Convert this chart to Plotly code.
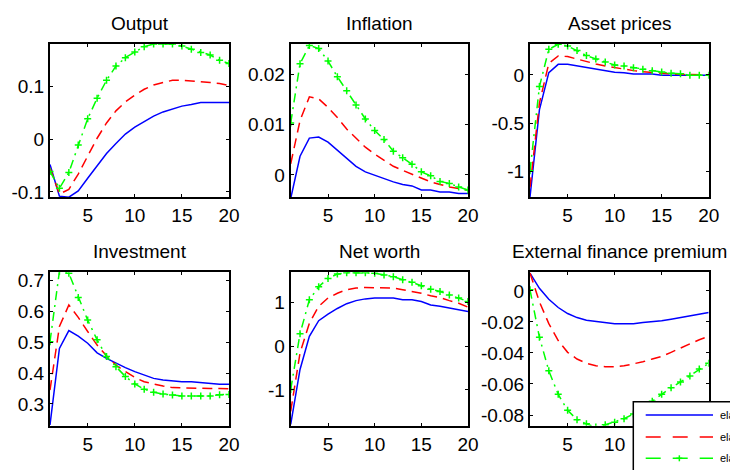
import plotly.graph_objects as go

periods = list(range(1, 21))

titles = ["Output", "Inflation", "Asset prices", "Investment", "Net worth", "External finance premium"]

output_low = [-0.048, -0.108, -0.110, -0.098, -0.074, -0.050, -0.027, -0.008, 0.010, 0.023, 0.034, 0.044, 0.052, 0.058, 0.063, 0.066, 0.070, 0.070, 0.070, 0.070]
output_mid = [-0.054, -0.104, -0.095, -0.066, -0.032, 0.002, 0.031, 0.054, 0.071, 0.084, 0.095, 0.103, 0.108, 0.112, 0.112, 0.111, 0.110, 0.108, 0.106, 0.102]
output_high = [-0.061, -0.093, -0.063, -0.011, 0.039, 0.078, 0.112, 0.139, 0.155, 0.166, 0.176, 0.181, 0.181, 0.181, 0.177, 0.171, 0.165, 0.160, 0.150, 0.144]

inflation_low = [-0.0047, 0.0037, 0.0073, 0.0075, 0.0065, 0.0049, 0.0032, 0.0017, 0.0006, -0.0001, -0.0007, -0.0014, -0.0019, -0.0022, -0.0030, -0.0030, -0.0034, -0.0034, -0.0037, -0.0037]
inflation_mid = [0.0022, 0.0108, 0.0155, 0.0151, 0.0134, 0.0114, 0.0091, 0.0072, 0.0055, 0.0041, 0.0029, 0.0017, 0.0009, 0.0001, -0.0007, -0.0014, -0.0019, -0.0024, -0.0027, -0.0030]
inflation_high = [0.0103, 0.0221, 0.0257, 0.0251, 0.0226, 0.0195, 0.0167, 0.0139, 0.0111, 0.0088, 0.0070, 0.0047, 0.0034, 0.0021, 0.0006, -0.0002, -0.0013, -0.0017, -0.0024, -0.0030]

asset_low = [-1.26, -0.36, 0.024, 0.11, 0.11, 0.093, 0.076, 0.059, 0.045, 0.028, 0.024, 0.010, 0.010, 0.010, -0.002, -0.002, -0.002, -0.002, -0.002, -0.002]
asset_mid = [-1.16, -0.29, 0.12, 0.197, 0.19, 0.162, 0.138, 0.114, 0.093, 0.076, 0.059, 0.045, 0.034, 0.024, 0.017, 0.010, 0.007, 0.003, 0.0, 0.0]
asset_high = [-0.99, -0.12, 0.265, 0.317, 0.30, 0.252, 0.20, 0.166, 0.134, 0.103, 0.093, 0.076, 0.059, 0.045, 0.031, 0.017, 0.014, -0.003, -0.003, -0.003]

investment_low = [0.232, 0.48, 0.538, 0.52, 0.497, 0.466, 0.448, 0.432, 0.418, 0.405, 0.394, 0.383, 0.378, 0.375, 0.372, 0.372, 0.369, 0.365, 0.364, 0.364]
investment_mid = [0.345, 0.551, 0.621, 0.581, 0.535, 0.491, 0.456, 0.426, 0.405, 0.386, 0.372, 0.364, 0.358, 0.353, 0.352, 0.350, 0.350, 0.350, 0.350, 0.349]
investment_high = [0.502, 0.73, 0.724, 0.645, 0.572, 0.508, 0.454, 0.421, 0.389, 0.365, 0.348, 0.338, 0.332, 0.329, 0.326, 0.326, 0.326, 0.326, 0.330, 0.331]

networth_low = [-1.79, -0.53, 0.23, 0.59, 0.74, 0.87, 0.98, 1.05, 1.09, 1.11, 1.11, 1.11, 1.07, 1.07, 1.03, 0.95, 0.92, 0.88, 0.85, 0.80]
networth_mid = [-1.49, -0.15, 0.53, 0.92, 1.11, 1.22, 1.30, 1.34, 1.35, 1.35, 1.35, 1.34, 1.30, 1.26, 1.22, 1.16, 1.12, 1.05, 0.99, 0.90]
networth_high = [-0.99, 0.29, 1.07, 1.37, 1.56, 1.66, 1.69, 1.69, 1.69, 1.68, 1.64, 1.60, 1.53, 1.47, 1.39, 1.31, 1.26, 1.18, 1.11, 1.03]

efp_low = [0.0115, 0.0017, -0.0054, -0.0107, -0.0146, -0.0172, -0.0189, -0.0196, -0.0202, -0.0211, -0.0211, -0.0211, -0.0204, -0.0200, -0.0193, -0.0183, -0.0172, -0.0161, -0.0150, -0.0139]
efp_mid = [0.0115, -0.0070, -0.0211, -0.0320, -0.0396, -0.0439, -0.0467, -0.0483, -0.0489, -0.0489, -0.0483, -0.0472, -0.0457, -0.0439, -0.0422, -0.0396, -0.0367, -0.0341, -0.0315, -0.0293]
efp_high = [0.0007, -0.0298, -0.0515, -0.0667, -0.0770, -0.0830, -0.0857, -0.0878, -0.0863, -0.0846, -0.0824, -0.0793, -0.0754, -0.0711, -0.0667, -0.0624, -0.0587, -0.0548, -0.0504, -0.0467]

y_ranges = [[-0.1096, 0.181], [-0.0044, 0.026], [-1.26, 0.32], [0.2295, 0.727], [-1.82, 1.70], [-0.0869, 0.012]]
y_tickvals = [[-0.1, 0, 0.1], [0, 0.01, 0.02], [-1, -0.5, 0], [0.3, 0.4, 0.5, 0.6, 0.7], [-1, 0, 1], [-0.08, -0.06, -0.04, -0.02, 0]]
y_ticktext = [["-0.1", "0", "0.1"], ["0", "0.01", "0.02"], ["-1", "-0.5", "0"], ["0.3", "0.4", "0.5", "0.6", "0.7"], ["-1", "0", "1"], ["-0.08", "-0.06", "-0.04", "-0.02", "0"]]
x_tickvals = [5, 10, 15, 20]
x_ticktext = ["5", "10", "15", "20"]

legend_labels = ["elasticity = 0", "elasticity = 0.05", "elasticity = 0.1"]

panels = [
    (output_low, output_mid, output_high),
    (inflation_low, inflation_mid, inflation_high),
    (asset_low, asset_mid, asset_high),
    (investment_low, investment_mid, investment_high),
    (networth_low, networth_mid, networth_high),
    (efp_low, efp_mid, efp_high),
]

W, H = 730, 470
FONT = "Liberation Sans, Arial, sans-serif"
FS = 19

col_px = [(50, 229), (290.7, 468), (530, 708.7)]
row_px = [(44, 197), (272.3, 425.7)]
title_y_px = [23, 251]

fig = go.Figure()
annotations = []
layout = {}

for i, (low, mid, high) in enumerate(panels):
    r, c = divmod(i, 3)
    n = i + 1
    xa = "x" if n == 1 else f"x{n}"
    ya = "y" if n == 1 else f"y{n}"
    fig.add_trace(go.Scatter(x=periods, y=low, xaxis=xa, yaxis=ya, mode="lines",
                             line=dict(color="#0000FF", width=1.5), showlegend=False))
    fig.add_trace(go.Scatter(x=periods, y=mid, xaxis=xa, yaxis=ya, mode="lines",
                             line=dict(color="#FF0000", width=1.5, dash="10px,6px"), showlegend=False))
    fig.add_trace(go.Scatter(x=periods, y=high, xaxis=xa, yaxis=ya, mode="lines+markers",
                             line=dict(color="#00FF00", width=1.5, dash="9px,5px,2px,5px"),
                             marker=dict(symbol="cross-thin", size=5, color="#00FF00",
                                         line=dict(color="#00FF00", width=1.5)),
                             showlegend=False))
    x0, x1 = col_px[c]
    yt, yb = row_px[r]
    axcommon = dict(showline=True, linecolor="black", linewidth=2, mirror="ticks",
                    ticks="inside", ticklen=3, tickwidth=1, tickcolor="black",
                    showgrid=False, zeroline=False,
                    tickfont=dict(family=FONT, size=FS, color="black"))
    layout["xaxis" if n == 1 else f"xaxis{n}"] = dict(
        domain=[x0 / W, x1 / W], range=[1, 20], anchor=ya,
        tickmode="array", tickvals=x_tickvals, ticktext=x_ticktext, **axcommon)
    layout["yaxis" if n == 1 else f"yaxis{n}"] = dict(
        domain=[1 - yb / H, 1 - yt / H], range=y_ranges[i], anchor=xa,
        tickmode="array", tickvals=y_tickvals[i], ticktext=y_ticktext[i], **axcommon)
    annotations.append(dict(text=titles[i], xref="paper", yref="paper",
                            x=(x0 + x1) / 2 / W, y=1 - title_y_px[r] / H,
                            xanchor="center", yanchor="middle", showarrow=False,
                            font=dict(family=FONT, size=FS, color="black")))

# manual legend (partially cut off by the figure edge, as in the reference)
lg_left, lg_top = 633.3, 401.7
line_x0, line_x1, text_x = 645.7, 713, 718
entry_y = [415, 437, 458.3]
entry_style = [("#0000FF", "solid"), ("#FF0000", "15px,12px"), ("#00FF00", "15px,12px")]
shapes = [dict(type="rect", xref="paper", yref="paper", x0=lg_left / W, x1=1.1,
               y0=1 - lg_top / H, y1=-0.1, fillcolor="white",
               line=dict(color="black", width=1.5), layer="above")]
for k, (col, dsh) in enumerate(entry_style):
    yy = 1 - entry_y[k] / H
    shapes.append(dict(type="line", xref="paper", yref="paper", x0=line_x0 / W, x1=line_x1 / W,
                       y0=yy, y1=yy, line=dict(color=col, width=1.5, dash=dsh), layer="above"))
    annotations.append(dict(text=legend_labels[k], xref="paper", yref="paper", x=text_x / W, y=yy,
                            xanchor="left", yanchor="middle", showarrow=False,
                            font=dict(family=FONT, size=11, color="black")))
mx = (line_x0 + line_x1) / 2
my = entry_y[2]
shapes.append(dict(type="line", xref="paper", yref="paper", x0=(mx - 3) / W, x1=(mx + 3) / W,
                   y0=1 - my / H, y1=1 - my / H, line=dict(color="#00FF00", width=1.5), layer="above"))
shapes.append(dict(type="line", xref="paper", yref="paper", x0=mx / W, x1=mx / W,
                   y0=1 - (my - 3) / H, y1=1 - (my + 3) / H, line=dict(color="#00FF00", width=1.5), layer="above"))

fig.update_layout(
    width=W, height=H,
    margin=dict(l=0, r=0, t=0, b=0, autoexpand=False),
    paper_bgcolor="white", plot_bgcolor="white",
    showlegend=False,
    annotations=annotations, shapes=shapes,
    **layout,
)

fig.write_html("out.html")
